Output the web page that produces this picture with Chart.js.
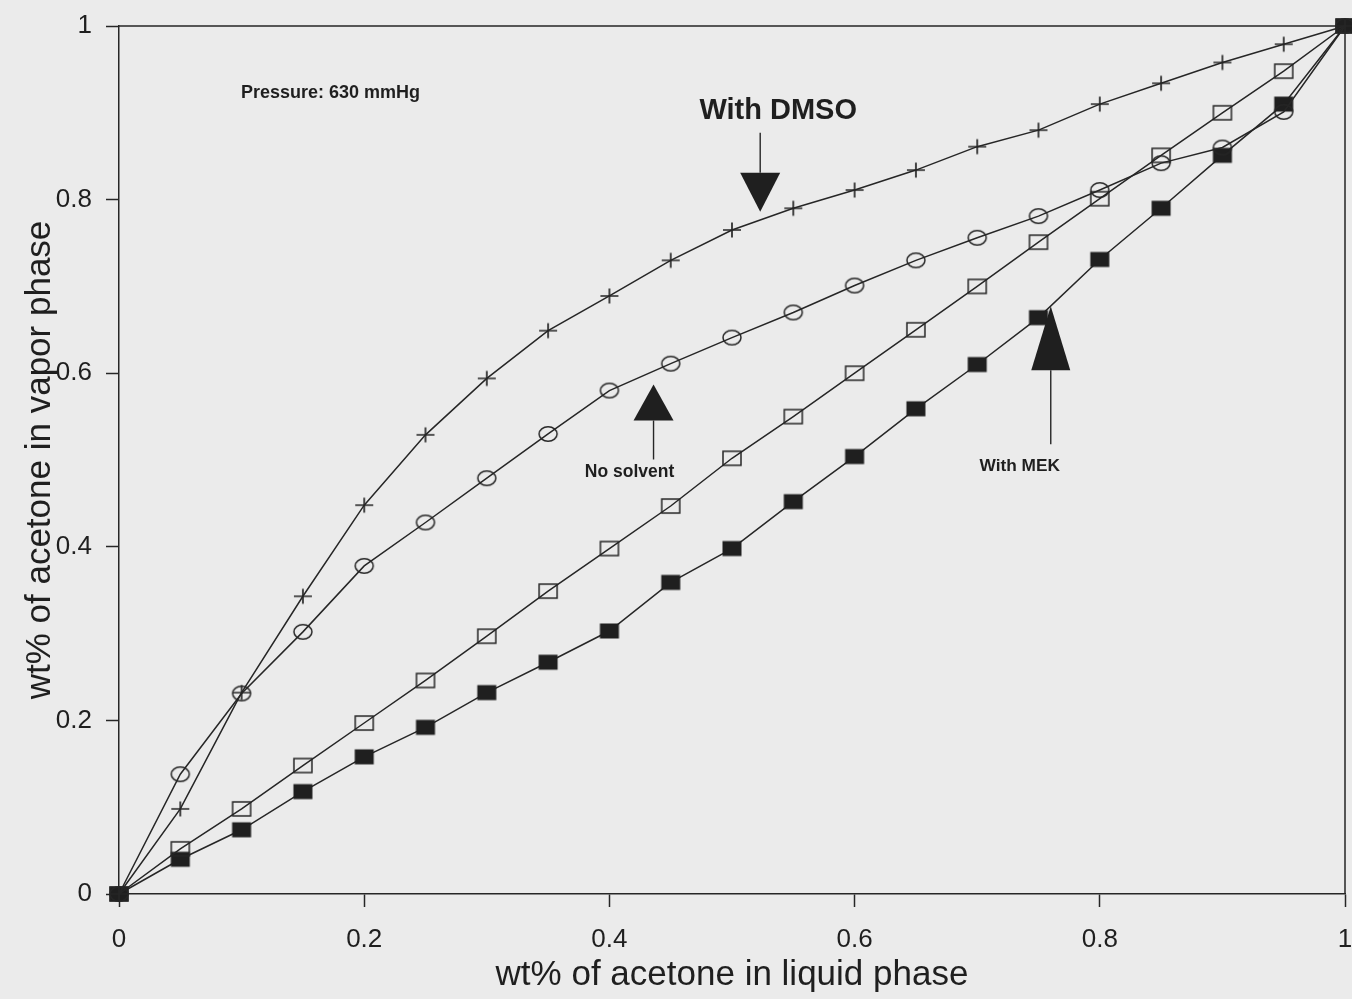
<!DOCTYPE html>
<html>
<head>
<meta charset="utf-8">
<script src="https://cdn.jsdelivr.net/npm/chart.js@4.4.1/dist/chart.umd.min.js"></script>
<style>
  html, body { margin: 0; padding: 0; background: #ebebeb; }
  #c { display: block; }
</style>
</head>
<body>
<canvas id="c" width="1352" height="999"></canvas>
<script>
// Liquid-phase acetone fraction (x) and vapor-phase fraction (y) for each system
const liquidFraction = [0, 0.05, 0.10, 0.15, 0.20, 0.25, 0.30, 0.35, 0.40, 0.45, 0.50,
                        0.55, 0.60, 0.65, 0.70, 0.75, 0.80, 0.85, 0.90, 0.95, 1];
const vaporWithDMSO  = [0, 0.098, 0.232, 0.343, 0.448, 0.529, 0.594, 0.649, 0.689, 0.730, 0.765,
                        0.790, 0.811, 0.834, 0.861, 0.880, 0.910, 0.934, 0.958, 0.979, 1];
const vaporNoSolvent = [0, 0.138, 0.231, 0.302, 0.378, 0.428, 0.479, 0.530, 0.580, 0.611, 0.641,
                        0.670, 0.701, 0.730, 0.756, 0.781, 0.811, 0.842, 0.860, 0.901, 1];
const vaporOpenSquare = [0, 0.052, 0.098, 0.148, 0.197, 0.246, 0.297, 0.349, 0.398, 0.447, 0.502,
                        0.550, 0.600, 0.650, 0.700, 0.751, 0.801, 0.851, 0.900, 0.948, 1];
const vaporWithMEK   = [0, 0.040, 0.074, 0.118, 0.158, 0.192, 0.232, 0.267, 0.303, 0.359, 0.398,
                        0.452, 0.504, 0.559, 0.610, 0.664, 0.731, 0.790, 0.851, 0.910, 1];

const xTickValues = [0, 0.2, 0.4, 0.6, 0.8, 1];
const xTickLabels = ['0', '0.2', '0.4', '0.6', '0.8', '1'];
const yTickValues = [0, 0.2, 0.4, 0.6, 0.8, 1];
const yTickLabels = ['0', '0.2', '0.4', '0.6', '0.8', '1'];

const xTitle = 'wt% of acetone in liquid phase';
const yTitle = 'wt% of acetone in vapor phase';
const noteText = 'Pressure: 630 mmHg';

// Arrow callouts, anchored at their tips in data coordinates
const callouts = [
  { text: 'With DMSO',  x: 0.523, y: 0.786, dir: 'down', w: 40, h: 39, stem: 40, dx: 18,  dy: -101, size: 29 },
  { text: 'No solvent', x: 0.436, y: 0.587, dir: 'up',   w: 40, h: 36, stem: 39, dx: -24, dy: 88,   size: 17.5 },
  { text: 'With MEK',   x: 0.760, y: 0.677, dir: 'up',   w: 39, h: 64, stem: 74, dx: -31, dy: 160,  size: 17.3 }
];

const INK = '#1f1f1f';
const LINE = '#262626';
const FONT = '"Liberation Sans", Arial, Helvetica, sans-serif';

function pts(ys) { return liquidFraction.map((x, i) => ({ x: x, y: ys[i] })); }

// Marker sprites
function marker(kind) {
  const cv = document.createElement('canvas');
  const W = 22, H = 18;
  cv.width = W; cv.height = H;
  const g = cv.getContext('2d');
  g.strokeStyle = LINE; g.fillStyle = INK; g.lineWidth = 1.5;
  const cx = W / 2, cy = H / 2;
  if (kind === 'ellipse') {
    g.beginPath(); g.ellipse(cx, cy, 9, 7.3, 0, 0, Math.PI * 2); g.stroke();
  } else if (kind === 'openRect') {
    g.strokeRect(cx - 9, cy - 7, 18, 14);
  } else if (kind === 'filledRect') {
    g.fillRect(cx - 9.5, cy - 7.5, 19, 15);
  } else if (kind === 'cross') {
    g.lineWidth = 1.7;
    g.beginPath();
    g.moveTo(cx - 9, cy); g.lineTo(cx + 9, cy);
    g.moveTo(cx, cy - 7.5); g.lineTo(cx, cy + 7.5);
    g.stroke();
  }
  return cv;
}

function series(label, ys, kind) {
  return {
    label: label,
    data: pts(ys),
    showLine: true,
    borderColor: LINE,
    borderWidth: 1.5,
    backgroundColor: INK,
    pointStyle: marker(kind),
    pointRadius: 2,
    pointBorderWidth: 0,
    tension: 0,
    clip: false
  };
}

const bgPlugin = {
  id: 'paper',
  beforeDraw(chart) {
    const ctx = chart.ctx;
    ctx.save();
    ctx.fillStyle = '#ebebeb';
    ctx.fillRect(0, 0, chart.width, chart.height);
    ctx.restore();
  },
  beforeDatasetsDraw(chart) {
    // top and right edges of the plot frame
    const { ctx, chartArea: a } = chart;
    ctx.save();
    ctx.strokeStyle = LINE; ctx.lineWidth = 1.5;
    ctx.beginPath();
    ctx.moveTo(a.left, a.top); ctx.lineTo(a.right, a.top); ctx.lineTo(a.right, a.bottom);
    ctx.stroke();
    // pressure note
    const xs = chart.scales.x, ys = chart.scales.y;
    ctx.fillStyle = INK;
    ctx.font = 'bold 18px ' + FONT;
    ctx.textAlign = 'left'; ctx.textBaseline = 'middle';
    ctx.fillText(noteText, xs.getPixelForValue(0.0995), ys.getPixelForValue(0.923));
    ctx.restore();
  },
  afterDatasetsDraw(chart) {
    const { ctx } = chart;
    const xs = chart.scales.x, ys = chart.scales.y;
    ctx.save();
    ctx.fillStyle = INK; ctx.strokeStyle = LINE; ctx.lineWidth = 1.4;
    for (const c of callouts) {
      const px = xs.getPixelForValue(c.x), py = ys.getPixelForValue(c.y);
      const s = c.dir === 'down' ? -1 : 1;
      ctx.beginPath();
      ctx.moveTo(px, py);
      ctx.lineTo(px - c.w / 2, py + s * c.h);
      ctx.lineTo(px + c.w / 2, py + s * c.h);
      ctx.closePath();
      ctx.fill();
      ctx.beginPath();
      ctx.moveTo(px, py + s * c.h);
      ctx.lineTo(px, py + s * (c.h + c.stem));
      ctx.stroke();
      ctx.font = 'bold ' + c.size + 'px ' + FONT;
      ctx.textAlign = 'center'; ctx.textBaseline = 'middle';
      ctx.fillText(c.text, px + c.dx, py + c.dy);
    }
    ctx.restore();
  }
};

const axisCommon = {
  type: 'linear',
  min: 0,
  max: 1,
  border: { display: true, color: LINE, width: 1.5 },
  grid: { drawOnChartArea: false, drawTicks: true, tickLength: 13, tickWidth: 1.5, tickColor: LINE }
};

new Chart(document.getElementById('c'), {
  type: 'scatter',
  data: {
    datasets: [
      series('With DMSO', vaporWithDMSO, 'cross'),
      series('No solvent', vaporNoSolvent, 'ellipse'),
      series('Open squares', vaporOpenSquare, 'openRect'),
      series('With MEK', vaporWithMEK, 'filledRect')
    ]
  },
  options: {
    responsive: false,
    animation: false,
    devicePixelRatio: 1,
    layout: { padding: { top: 26, right: 7, bottom: 0, left: 0 } },
    plugins: { legend: { display: false }, tooltip: { enabled: false } },
    scales: {
      x: Object.assign({}, axisCommon, {
        position: 'bottom',
        afterBuildTicks(scale) { scale.ticks = xTickValues.map(v => ({ value: v })); },
        afterFit(scale) { scale.height = 105; scale.paddingLeft = 0; scale.paddingRight = 0; },
        ticks: {
          color: INK, padding: 17, maxRotation: 0, autoSkip: false,
          font: { family: FONT, size: 26 },
          callback(v) { const i = xTickValues.indexOf(v); return i >= 0 ? xTickLabels[i] : ''; }
        },
        title: { display: true, text: xTitle, color: INK, font: { family: FONT, size: 35 }, padding: { top: 0, bottom: 3 } }
      }),
      y: Object.assign({}, axisCommon, {
        position: 'left',
        afterBuildTicks(scale) { scale.ticks = yTickValues.map(v => ({ value: v })); },
        afterFit(scale) { scale.width = 119; scale.paddingTop = 0; scale.paddingBottom = 0; },
        ticks: {
          color: INK, padding: 14, autoSkip: false,
          font: { family: FONT, size: 26 },
          callback(v) { const i = yTickValues.indexOf(v); return i >= 0 ? yTickLabels[i] : ''; }
        },
        title: { display: true, text: yTitle, color: INK, font: { family: FONT, size: 35 }, padding: { top: 19, bottom: 0 } }
      })
    }
  },
  plugins: [bgPlugin]
});
</script>
</body>
</html>
